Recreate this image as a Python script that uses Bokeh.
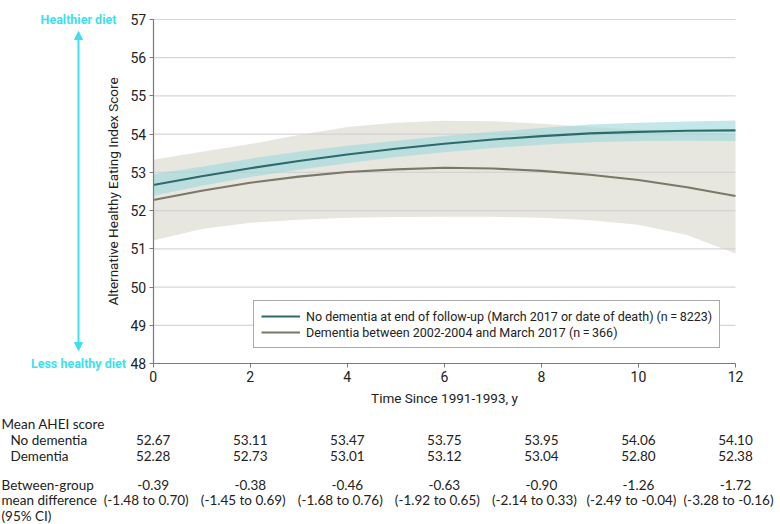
from bokeh.plotting import figure
from bokeh.models import Range1d, Arrow, NormalHead, Legend, LegendItem, FixedTicker, ColumnDataSource
from bokeh.core.properties import value
from bokeh.embed import file_html
from bokeh.resources import INLINE

# ---------------- data ----------------
years = [0, 1, 2, 3, 4, 5, 6, 7, 8, 9, 10, 11, 12]
no_dem = [52.67, 52.90, 53.11, 53.30, 53.47, 53.62, 53.75, 53.86, 53.95, 54.02, 54.06, 54.09, 54.10]
no_dem_lo = [52.39, 52.65, 52.88, 53.07, 53.24, 53.40, 53.53, 53.64, 53.72, 53.79, 53.82, 53.83, 53.82]
no_dem_hi = [52.95, 53.15, 53.36, 53.54, 53.70, 53.83, 53.95, 54.06, 54.16, 54.25, 54.30, 54.33, 54.36]
dem = [52.28, 52.52, 52.73, 52.89, 53.01, 53.08, 53.12, 53.10, 53.04, 52.94, 52.80, 52.61, 52.38]
dem_lo = [51.22, 51.52, 51.68, 51.76, 51.81, 51.83, 51.84, 51.84, 51.81, 51.75, 51.63, 51.36, 50.88]
dem_hi = [53.33, 53.54, 53.74, 53.98, 54.19, 54.30, 54.35, 54.34, 54.27, 54.19, 54.12, 54.06, 54.00]

table_years = [0, 2, 4, 6, 8, 10, 12]
tab_no_dem = ["52.67", "53.11", "53.47", "53.75", "53.95", "54.06", "54.10"]
tab_dem = ["52.28", "52.73", "53.01", "53.12", "53.04", "52.80", "52.38"]
tab_diff = ["-0.39", "-0.38", "-0.46", "-0.63", "-0.90", "-1.26", "-1.72"]
tab_ci = ["(-1.48 to 0.70)", "(-1.45 to 0.69)", "(-1.68 to 0.76)", "(-1.92 to 0.65)",
          "(-2.14 to 0.33)", "(-2.49 to -0.04)", "(-3.28 to -0.16)"]
row_labels = ["Mean AHEI score", "No dementia", "Dementia",
              "Between-group", "mean difference", "(95% CI)"]
y_ticks = [48, 49, 50, 51, 52, 53, 54, 55, 56, 57]
x_ticks = [0, 2, 4, 6, 8, 10, 12]

AX_FONT = "Roboto"
TABLE_FONT = "Lato"
TXT = "#222222"
CYAN = "#3fdfee"

# ---------------- page geometry (pixels) ----------------
W, H = 780, 524
X0_PX, X12_PX = 152.7, 735.0      # plot frame x = 0 and x = 12
Y57_PX, Y48_PX = 19.0, 363.0      # plot frame y = 57 and y = 48
sx = (X12_PX - X0_PX) / 12.0
sy = (Y48_PX - Y57_PX) / 9.0

def dx(px):
    return (px - X0_PX) / sx

def dy(py):
    return 48 + (Y48_PX - py) / sy

p = figure(width=W, height=H, output_backend="svg", toolbar_location=None,
           x_range=Range1d(dx(0), dx(W)), y_range=Range1d(dy(H), dy(0)), min_border=0)
p.outline_line_color = None
p.grid.grid_line_color = None

# bands, grid, lines
p.varea(x=years, y1=dem_lo, y2=dem_hi, fill_color="#e7e6df", fill_alpha=1.0)
p.segment(x0=[0] * len(y_ticks[1:]), x1=[12] * len(y_ticks[1:]), y0=y_ticks[1:], y1=y_ticks[1:],
          line_color="#d2d2d2", line_width=1.2, line_alpha=0.9)
p.varea(x=years, y1=no_dem_lo, y2=no_dem_hi, fill_color="#9dd9dc", fill_alpha=0.6)
r1 = p.line(years, no_dem, line_color="#2d6a6b", line_width=2.1)
r2 = p.line(years, dem, line_color="#7b7867", line_width=2.1)

# axes placed at the data origin of the chart
p.xaxis.fixed_location = 48
p.yaxis.fixed_location = 0
p.xaxis.bounds = (0, 12)
p.yaxis.bounds = (48, 57)
for ax in (p.xaxis[0], p.yaxis[0]):
    ax.axis_line_color = "#7a7a7a"
    ax.axis_line_width = 1.2
    ax.major_tick_line_color = "#7a7a7a"
    ax.minor_tick_line_color = None
    ax.major_tick_in = 0
    ax.major_tick_out = 4
    ax.major_label_text_font = AX_FONT
    ax.major_label_text_font_size = "14px"
    ax.major_label_text_color = TXT
    ax.axis_label_text_font = AX_FONT
    ax.axis_label_text_font_size = "13.5px"
    ax.axis_label_text_font_style = "normal"
    ax.axis_label_text_color = TXT
p.xaxis.ticker = FixedTicker(ticks=x_ticks)
p.yaxis.ticker = FixedTicker(ticks=y_ticks)
p.xaxis.axis_label = "Time Since 1991-1993, y"
p.yaxis.axis_label = "Alternative Healthy Eating Index Score"
p.xaxis.major_label_standoff = 3
p.xaxis.axis_label_standoff = 5
p.yaxis.major_label_standoff = 3
p.yaxis.axis_label_standoff = 7

# legend (location measured from the bottom-left of the frame)
legend = Legend(items=[
    LegendItem(label="No dementia at end of follow-up (March 2017 or date of death) (n\u2009=\u20098223)", renderers=[r1]),
    LegendItem(label="Dementia between 2002-2004 and March 2017 (n\u2009=\u2009366)", renderers=[r2]),
], location=(253, H - 348))
legend.label_text_font = AX_FONT
legend.label_text_font_size = "12.5px"
legend.label_text_color = TXT
legend.border_line_color = "#555555"
legend.border_line_width = 1
legend.background_fill_alpha = 1
legend.glyph_width = 39
legend.glyph_height = 16
legend.label_height = 16
legend.spacing = 0
legend.padding = 7
legend.label_standoff = 6
legend.margin = 0
p.add_layout(legend)

# healthier / less healthy arrow
p.add_layout(Arrow(x_start=dx(78), y_start=dy(350), x_end=dx(78), y_end=dy(31),
                   line_color=CYAN, line_width=2,
                   start=NormalHead(size=8, fill_color=CYAN, line_color=CYAN),
                   end=NormalHead(size=8, fill_color=CYAN, line_color=CYAN)))
p.text(x=[dx(78), dx(78)], y=[dy(19), dy(363)], text=["Healthier diet", "Less healthy diet"],
       text_align="center", text_baseline="middle", text_color=CYAN,
       text_font=value(AX_FONT), text_font_size="12.5px", text_font_style="bold")

# table under the chart
ci_shift = 7 / sx
row_y = [439, 455, 484, 499]
row_x = [list(table_years), list(table_years), list(table_years),
         [t - ci_shift for t in table_years]]
for vals, xs, ypx in zip([tab_no_dem, tab_dem, tab_diff, tab_ci], row_x, row_y):
    src = ColumnDataSource(dict(x=xs, y=[dy(ypx)] * len(xs), t=vals))
    p.text(x="x", y="y", text="t", source=src, text_align="center", text_baseline="middle",
           text_font=value(TABLE_FONT), text_font_size="13.5px", text_color=TXT)

label_x = [1, 10, 10, 1, 1, 1]
label_y = [423, 439, 455, 484, 499, 515]
p.text(x=[dx(v) for v in label_x], y=[dy(v) for v in label_y], text=row_labels, text_align="left",
       text_baseline="middle", text_font=value(TABLE_FONT), text_font_size="13.5px",
       text_color=TXT)

open("out.html", "w").write(file_html(p, INLINE))
